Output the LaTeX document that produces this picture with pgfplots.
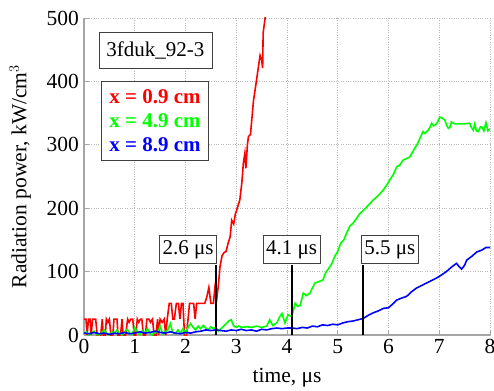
\documentclass[border=0pt]{standalone}
\usepackage{pgfplots}
\pgfplotsset{compat=1.18}
\usepackage{fontspec}
\setmainfont{Liberation Serif}
\begin{document}
\fontsize{21}{24}\selectfont
\begin{tikzpicture}
\begin{axis}[
  scale only axis, width=406pt, height=317pt,
  xmin=0, xmax=8, ymin=0, ymax=500,
  xtick={0,1,...,8}, ytick={0,100,...,500},
  axis x line*=bottom, axis y line*=left,
  axis line style={gray!70, line width=1.5pt, -},
  tick style={gray!70, line width=0.8pt},
  tick align=inside, major tick length=5pt,
  grid=major, grid style={dotted, gray!55, line width=0.8pt},
  /pgf/number format/assume math mode=true,
  ticklabel style={font=\fontsize{21.5}{24}\selectfont},
  xticklabel style={inner sep=1pt, yshift=-3pt},
  yticklabel style={inner sep=2pt, xshift=-3pt},
  xlabel={time, μs},
  ylabel={Radiation power, kW/cm$^3$},
  xlabel style={at={(axis description cs:0.5,-0.151)}, anchor=base, font=\fontsize{21.5}{24}\selectfont},
  ylabel style={at={(axis description cs:-0.113,0.5)}, anchor=south, rotate=0, font=\fontsize{21.5}{24}\selectfont},
  clip=true,
]
\addplot[red, line width=1.6pt] coordinates {
(0,25)(0.04,25)(0.06,0)(0.09,25)(0.12,25)(0.14,0)(0.17,25)(0.2,25)(0.23,25)(0.26,0)(0.3,0)(0.33,0)(0.36,25)(0.38,0)(0.42,0)(0.44,25)(0.47,20)(0.5,25)(0.53,0)(0.57,0)(0.59,25)(0.62,25)(0.65,25)(0.67,0)(0.72,0)(0.75,25)(0.77,0)(0.82,0)(0.86,25)(0.89,20)(0.92,25)(0.96,25)(0.99,0)(1.02,0)(1.05,25)(1.08,20)(1.11,25)(1.14,25)(1.17,0)(1.21,0)(1.24,25)(1.28,25)(1.31,20)(1.35,25)(1.38,0)(1.42,0)(1.45,25)(1.47,0)(1.5,25)(1.54,20)(1.58,25)(1.61,0)(1.64,25)(1.68,50)(1.72,50)(1.75,25)(1.78,25)(1.82,50)(1.86,50)(1.89,25)(1.92,50)(1.95,50)(1.98,0)(2.02,0)(2.05,25)(2.08,50)(2.12,50)(2.16,50)(2.19,25)(2.22,50)(2.27,50)(2.33,50)(2.38,50)(2.42,60)(2.46,75)(2.5,50)(2.55,50)(2.58,75)(2.62,60)(2.65,80)(2.68,108)(2.72,125)(2.76,130)(2.8,132)(2.84,145)(2.88,155)(2.91,181)(2.95,175)(2.98,190)(3.02,200)(3.07,213)(3.11,240)(3.14,271)(3.17,287)(3.19,263)(3.22,300)(3.24,313)(3.28,316)(3.34,370)(3.4,402)(3.44,425)(3.47,441)(3.5,434)(3.52,421)(3.53,476)(3.56,495)(3.58,505)
};
\addplot[green, line width=1.6pt] coordinates {
(0,2)(0.05,5)(0.1,0)(0.15,3)(0.2,6)(0.25,1)(0.3,0)(0.35,4)(0.4,8)(0.45,2)(0.5,0)(0.55,5)(0.6,3)(0.65,8)(0.7,2)(0.75,0)(0.8,5)(0.85,9)(0.9,3)(0.95,1)(1.0,12)(1.05,5)(1.1,0)(1.15,7)(1.2,3)(1.25,10)(1.3,2)(1.35,0)(1.4,6)(1.45,3)(1.5,14)(1.55,2)(1.6,5)(1.65,8)(1.7,18)(1.75,4)(1.8,2)(1.85,8)(1.9,3)(1.95,10)(2.0,2)(2.05,12)(2.1,18)(2.15,12)(2.2,8)(2.25,14)(2.3,10)(2.35,15)(2.4,11)(2.45,8)(2.5,13)(2.55,10)(2.6,12)(2.65,6)(2.7,10)(2.75,14)(2.8,18)(2.85,22)(2.9,24)(2.95,14)(3.0,12)(3.05,14)(3.1,12)(3.2,13)(3.3,12)(3.4,14)(3.5,12)(3.6,14)(3.66,24)(3.72,15)(3.8,19)(3.85,28)(3.9,34)(3.96,19)(4.02,32)(4.09,29)(4.13,40)(4.16,50)(4.21,45)(4.26,47)(4.32,66)(4.38,62)(4.45,66)(4.5,74)(4.55,82)(4.62,84)(4.71,87)(4.76,98)(4.82,105)(4.88,112)(4.94,124)(5.0,132)(5.06,145)(5.12,150)(5.18,162)(5.24,172)(5.3,176)(5.37,184)(5.44,192)(5.5,196)(5.57,202)(5.63,207)(5.7,213)(5.8,220)(5.9,229)(5.96,236)(6.03,245)(6.1,254)(6.16,265)(6.22,268)(6.29,276)(6.35,278)(6.42,281)(6.47,288)(6.52,295)(6.56,300)(6.59,305)(6.63,312)(6.68,321)(6.72,318)(6.78,323)(6.82,328)(6.85,334)(6.89,330)(6.92,331)(6.97,336)(7.01,344)(7.06,342)(7.11,339)(7.15,330)(7.18,326)(7.21,328)(7.24,336)(7.3,333)(7.4,333)(7.5,333)(7.6,334)(7.63,328)(7.67,323)(7.7,333)(7.73,322)(7.77,321)(7.81,328)(7.84,328)(7.88,322)(7.92,335)(7.96,322)(8.0,325)
};
\addplot[blue, line width=1.6pt] coordinates {
(0,3)(0.1,2)(0.2,4)(0.3,2)(0.4,3)(0.5,1)(0.6,3)(0.7,2)(0.8,4)(0.9,2)(1.0,3)(1.1,5)(1.2,3)(1.3,4)(1.4,6)(1.5,4)(1.6,3)(1.7,5)(1.8,3)(1.9,2)(2.0,4)(2.1,3)(2.2,5)(2.3,6)(2.4,8)(2.5,7)(2.6,8)(2.7,7)(2.8,6)(2.9,8)(3.0,7)(3.1,9)(3.2,7)(3.3,8)(3.4,6)(3.5,9)(3.6,8)(3.7,10)(3.8,11)(3.9,10)(4.0,11)(4.1,11)(4.2,10)(4.3,12)(4.4,11)(4.5,14)(4.6,13)(4.7,16)(4.8,15)(4.9,17)(5.0,16)(5.1,19)(5.2,21)(5.3,22)(5.4,24)(5.5,26)(5.6,31)(5.7,35)(5.8,38)(5.9,42)(6.0,43)(6.1,50)(6.16,55)(6.25,58)(6.36,61)(6.45,68)(6.55,74)(6.65,78)(6.75,82)(6.85,86)(6.95,90)(7.05,95)(7.14,100)(7.24,107)(7.34,113)(7.39,108)(7.44,104)(7.5,110)(7.54,118)(7.64,124)(7.74,131)(7.84,134)(7.92,138)(8.0,138)
};
\addplot[black, line width=1.4pt] coordinates {(2.6,0)(2.6,111)};
\addplot[black, line width=1.4pt] coordinates {(4.1,0)(4.1,111)};
\addplot[black, line width=1.4pt] coordinates {(5.5,0)(5.5,111)};
\node[draw=darkgray, fill=white, line width=0.8pt, inner xsep=3pt, inner ysep=5pt, anchor=south east] at (axis cs:2.62,112) {2.6 μs};
\node[draw=darkgray, fill=white, line width=0.8pt, inner xsep=3pt, inner ysep=5pt, anchor=south] at (axis cs:4.09,112) {4.1 μs};
\node[draw=darkgray, fill=white, line width=0.8pt, inner xsep=3pt, inner ysep=5pt, anchor=south west] at (axis cs:5.46,112) {5.5 μs};
\node[draw=darkgray, fill=white, line width=0.8pt, minimum width=113pt, minimum height=36pt, inner sep=3pt] at (rel axis cs:0.176,0.899) {3fduk\_92-3};
\node[draw=darkgray, fill=white, line width=0.8pt, align=left, inner xsep=8pt, inner ysep=8pt, font=\bfseries] at (rel axis cs:0.175,0.675) {\textcolor{red}{x = 0.9 cm}\\\textcolor{green}{x = 4.9 cm}\\\textcolor{blue}{x = 8.9 cm}};
\end{axis}
\pgfresetboundingbox
\path ([shift={(-84pt,-55pt)}]current axis.south west) rectangle ++(494pt,390pt);
\end{tikzpicture}
\end{document}
